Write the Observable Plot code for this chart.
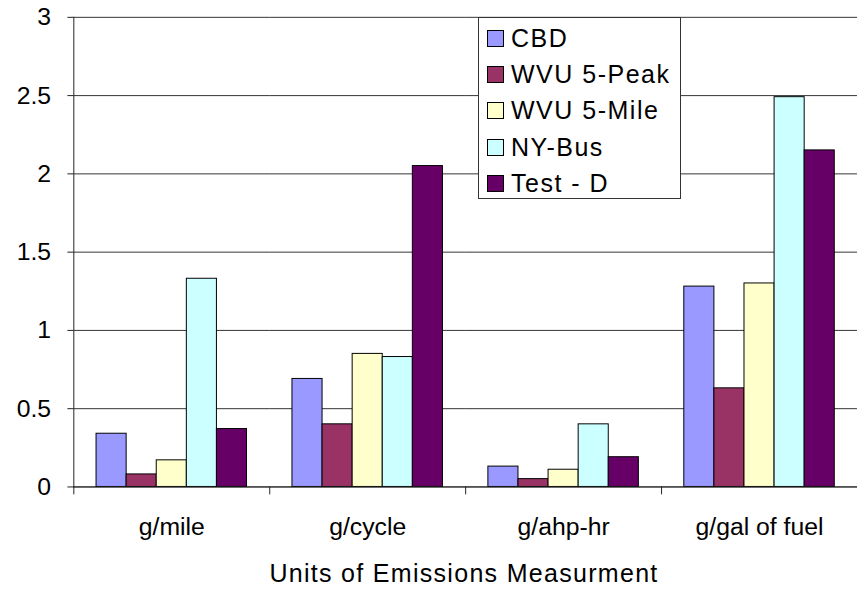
<!DOCTYPE html>
<html>
<head>
<meta charset="utf-8">
<script src="https://cdn.jsdelivr.net/npm/d3@7"></script>
<script src="https://cdn.jsdelivr.net/npm/@observablehq/plot@0.6"></script>
<style>
  html, body { margin: 0; padding: 0; background: #fff; }
  #wrap { position: relative; width: 857px; height: 590px; overflow: hidden; background: #fff;
          font-family: "Liberation Sans", Arial, sans-serif; color: #000; }
  #wrap svg { position: absolute; left: 0; top: 0; }
  .legend { position: absolute; left: 478px; top: 17px; width: 203px; height: 182px;
            border: 1px solid #333; background: #fff; padding-top: 2px; box-sizing: border-box; }
  .legend .row { display: flex; align-items: center; height: 36.3px; font-size: 25px; letter-spacing: 1.5px; }
  .legend .sw { width: 17px; height: 17px; border: 1px solid #000; box-sizing: border-box;
                margin-left: 8px; margin-right: 7px; flex: none; }
  .title { position: absolute; left: 214px; width: 500px; top: 561px; text-align: center;
           font-size: 25px; line-height: 25px; letter-spacing: 1.3px; }
</style>
</head>
<body>
<div id="wrap"></div>
<script>
// Emission rates for each test cycle, grouped by unit of measurement
const categories = ["g/mile", "g/cycle", "g/ahp-hr", "g/gal of fuel"];
const series = ["CBD", "WVU 5-Peak", "WVU 5-Mile", "NY-Bus", "Test - D"];
const cbd      = [0.34, 0.69, 0.13, 1.28];
const wvuPeak  = [0.08, 0.40, 0.05, 0.63];
const wvuMile  = [0.17, 0.85, 0.11, 1.30];
const nyBus    = [1.33, 0.83, 0.40, 2.49];
const testD    = [0.37, 2.05, 0.19, 2.15];
const colors   = ["#9999FF", "#993366", "#FFFFCC", "#CCFFFF", "#660066"];
const yTicks   = [0, 0.5, 1, 1.5, 2, 2.5, 3];
const xTitle   = "Units of Emissions Measurment";

const seriesValues = [cbd, wvuPeak, wvuMile, nyBus, testD];
const data = [];
categories.forEach((c, i) => {
  series.forEach((s, j) => data.push({category: c, series: s, value: seriesValues[j][i]}));
});

const W = 865, H = 590, ML = 74, MR = 0, MT = 17, MB = 99;
const band = (W - ML - MR) / categories.length;

const chart = Plot.plot({
  width: W, height: H,
  marginLeft: ML, marginRight: MR, marginTop: MT, marginBottom: MB,
  style: {fontFamily: "'Liberation Sans', Arial, sans-serif", fontSize: "25px", background: "transparent", overflow: "visible"},
  fx: {domain: categories, padding: 0, round: false, label: null},
  x: {domain: series, paddingInner: 0, paddingOuter: 0.755, round: false, axis: null},
  y: {domain: [0, 3], label: null},
  color: {domain: series, range: colors},
  marks: [
    Plot.gridY(yTicks, {stroke: "#333", strokeOpacity: 1}),
    Plot.frame({anchor: "left", facetAnchor: "left", stroke: "#222"}),
    Plot.axisY(yTicks, {tickSize: 6, tickPadding: 17, tickFormat: d => String(d), label: null, stroke: "#222", fill: "#000"}),
    Plot.axisFx({anchor: "bottom", tickSize: 0, tickPadding: 31, label: null, fill: "#000", style: {letterSpacing: "1.3px"}}),
    Plot.axisFx({anchor: "bottom", tickSize: 8, text: null, dx: -band / 2, label: null, stroke: "#222"}),
    Plot.barY(data, {fx: "category", x: "series", y: "value", fill: "series", stroke: "#000", strokeWidth: 1}),
    Plot.ruleY([0], {stroke: "#222"})
  ]
});

const wrap = document.getElementById("wrap");
wrap.appendChild(chart);

// Legend box
const legend = document.createElement("div");
legend.className = "legend";
series.forEach((s, j) => {
  const row = document.createElement("div");
  row.className = "row";
  const sw = document.createElement("span");
  sw.className = "sw";
  sw.style.background = colors[j];
  const label = document.createElement("span");
  label.textContent = s;
  row.appendChild(sw);
  row.appendChild(label);
  legend.appendChild(row);
});
wrap.appendChild(legend);

// Axis title
const title = document.createElement("div");
title.className = "title";
title.textContent = xTitle;
wrap.appendChild(title);
</script>
</body>
</html>
